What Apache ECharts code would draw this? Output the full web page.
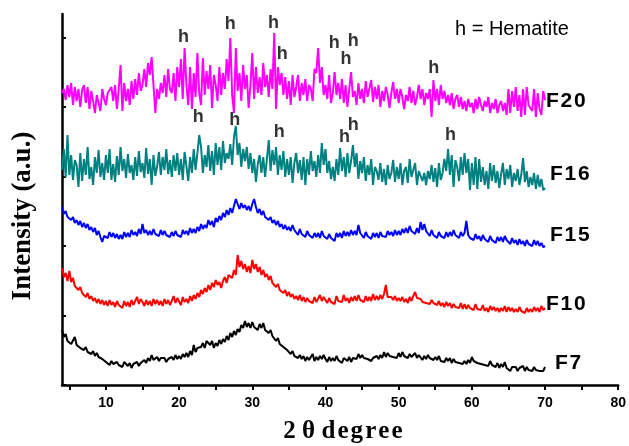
<!DOCTYPE html>
<html>
<head>
<meta charset="utf-8">
<script src="https://cdn.jsdelivr.net/npm/echarts@6/dist/echarts.min.js"></script>
<style>
  html, body { margin: 0; padding: 0; background: #fff; }
  #chart { width: 629px; height: 446px; }
</style>
</head>
<body>
<div id="chart"></div>
<script>
// Diffraction patterns sampled every 0.25° of 2θ, starting at 4°.
const angleStart = 4;
const angleStep = 0.25;

// Intensities (a.u.), one row per degree of 2θ (4 samples each).
const f7 = [
  55,48,51,44, 46,41,43,48, 40,42,37,39, 35,38,33,35, 31,34,29,32, 28,30,26,27,
  23,25,20,24, 21,19,23,20, 22,18,23,21, 19,22,17,21, 20,23,19,22, 21,25,22,27,
  24,30,25,27, 28,24,27,25, 27,23,26,24, 28,25,30,26, 29,26,31,28, 32,28,34,30,
  40,33,37,35, 38,42,37,44, 46,40,44,37, 42,39,45,41, 46,43,49,45, 52,48,54,50,
  56,53,60,57, 64,58,62,57, 63,58,60,55, 61,57,62,55, 57,52,55,49, 48,44,47,41,
  43,38,40,35, 36,31,34,29, 31,27,30,26, 29,24,28,25, 27,31,24,28, 25,29,26,30,
  26,23,28,24, 27,24,29,25, 26,22,27,25, 24,28,23,27, 29,26,31,27, 30,27,29,26,
  28,24,27,25, 29,26,30,27, 33,28,32,29, 31,28,30,27, 32,28,33,29, 30,27,31,28,
  29,32,27,30, 28,25,29,26, 30,27,28,25, 28,25,29,24, 26,23,27,24, 27,22,26,23,
  25,22,24,21, 24,21,25,22, 28,24,26,22, 24,21,23,20, 22,19,24,20, 21,18,22,17,
  21,18,23,17, 19,14,18,16, 18,14,17,15, 19,14,18,15, 17,14,18,15, 17,14,16,14,
  18
];
const f10 = [
  117,108,112,104, 114,103,107,99, 101,95,98,92, 94,88,92,86, 89,84,87,82, 86,81,85,80,
  84,79,85,80, 83,78,84,80, 82,77,84,79, 83,78,85,80, 82,88,81,86, 83,79,85,80,
  84,79,86,81, 85,80,84,79, 86,81,85,80, 84,89,82,87, 85,80,88,83, 86,82,89,84,
  90,86,92,88, 95,91,97,93, 100,95,102,98, 105,100,103,97, 104,108,102,110, 112,107,115,110,
  130,118,124,116, 121,113,119,112, 125,116,121,113, 118,110,115,108, 111,105,109,102, 104,98,101,95,
  97,92,95,89, 93,88,91,86, 89,85,90,84, 88,83,87,84, 86,82,88,83, 85,90,84,88,
  86,82,87,83, 85,81,89,84, 86,83,90,84, 87,82,88,84, 89,84,90,85, 87,83,89,84,
  88,84,91,85, 89,85,90,86, 91,100,88,90, 88,85,89,84, 87,84,88,83, 86,82,88,84,
  89,93,87,85, 86,83,85,82, 84,81,85,82, 83,80,84,79, 82,78,83,79, 82,77,81,78,
  80,77,82,76, 81,76,80,77, 79,75,81,76, 78,75,80,74, 77,73,79,75, 78,74,77,73,
  77,74,79,73, 78,74,77,73, 76,73,78,74, 75,72,77,73, 76,73,78,74, 77,73,79,75,
  77
];
const f15 = [
  178,171,174,168, 170,165,168,162, 165,160,164,158, 162,157,161,155, 158,153,157,150, 154,148,143,149,
  151,147,153,148, 152,147,151,146, 150,146,153,148, 152,148,155,150, 153,149,156,151, 161,152,155,150,
  154,150,156,151, 153,149,155,150, 154,150,152,148, 153,149,154,150, 152,148,155,151, 154,150,157,152,
  156,152,158,154, 161,156,160,157, 165,160,164,158, 167,163,169,165, 172,168,175,170, 177,172,179,186,
  181,176,182,177, 180,175,179,174, 181,186,178,172, 176,170,174,168, 170,165,168,162, 165,160,164,158,
  161,156,160,155, 158,154,160,155, 155,150,156,151, 153,148,154,150, 151,147,152,148, 152,147,154,149,
  150,146,151,147, 149,144,152,148, 152,147,154,149, 153,149,155,150, 154,150,160,152, 151,147,153,149,
  150,146,152,148, 152,147,153,149, 151,148,154,150, 153,149,155,150, 154,150,156,152, 157,152,159,154,
  155,151,157,152, 163,155,161,154, 153,149,155,150, 152,147,153,149, 151,147,153,148, 153,149,155,150,
  151,147,153,149, 152,164,150,147, 149,145,151,146, 149,144,150,146, 148,143,149,145, 147,142,148,144,
  148,143,149,145, 146,141,147,142, 145,140,146,141, 144,139,145,141, 143,139,145,140, 144,139,142,138,
  139
];
const f16 = [
  215,236,208,250, 210,230,205,225, 220,198,232,204, 226,210,238,206, 218,200,228,212, 235,208,222,205,
  230,212,236,205, 221,203,229,210, 238,214,226,207, 231,212,220,205, 228,209,234,213, 222,207,237,211,
  226,200,230,209, 219,233,210,228, 215,236,211,225, 208,230,214,232, 210,226,205,233, 219,204,228,212,
  236,215,232,250, 238,212,230,218, 240,214,234,210, 242,220,238,215, 244,222,232,226, 241,220,248,259,
  230,242,218,236, 224,238,216,232, 212,226,203,221, 230,212,228,208, 226,245,214,235, 220,238,210,230,
  215,234,208,226, 210,228,202,222, 232,212,225,205, 228,200,226,210, 234,214,224,208, 230,212,242,220,
  236,212,224,206, 218,204,226,210, 237,214,228,208, 232,212,224,240, 218,232,206,224, 212,228,204,220,
  210,226,200,218, 214,205,222,203, 216,200,220,206, 212,225,203,218, 206,222,200,214, 218,202,226,208,
  210,222,200,214, 216,204,212,200, 214,206,220,203, 217,198,222,205, 212,226,214,236, 210,230,198,225,
  218,204,228,210, 232,212,226,195, 222,200,228,196, 226,203,218,200, 214,196,222,204, 220,202,214,197,
  211,222,200,216, 206,220,198,212, 204,216,200,210, 227,203,214,198, 208,200,212,196, 210,198,206,195,
  197
];
const f20 = [
  292,296,285,300, 288,302,280,298, 284,296,278,295, 300,282,298,276, 294,284,272,290, 288,274,296,286,
  280,292,290,298, 284,300,276,296, 320,274,302,284, 296,280,304,286, 306,290,312,294, 300,316,298,322,
  310,328,300,272, 296,286,302,292, 310,288,316,296, 292,312,284,318, 298,326,286,337, 300,280,318,276,
  312,288,332,292, 280,327,290,314, 296,320,277,310, 300,284,318,290, 312,296,326,304, 347,290,272,337,
  294,312,284,320, 296,310,277,300, 332,286,318,292, 308,290,322,298, 310,288,316,296, 352,276,318,300,
  312,290,308,286, 304,280,310,288, 298,310,284,302, 290,306,284,300, 296,284,316,312, 337,302,318,290,
  300,286,310,282, 292,313,290,302, 286,306,282,300, 278,296,313,288, 294,280,302,286, 296,282,304,288,
  290,305,283,298, 286,300,278,294, 284,298,290,277, 292,303,286,296, 282,296,288,276, 290,284,298,282,
  294,280,288,300, 286,296,280,292, 286,296,268,305, 284,296,280,300, 286,294,282,290, 280,292,276,286,
  290,278,288,276, 284,274,286,278, 282,272,286,276, 288,280,274,284, 278,288,272,282, 276,286,272,280,
  284,274,282,270, 296,272,294,278, 298,274,290,268, 296,270,298,280, 282,274,296,268, 292,276,270,294,
  285
];

// Hematite reflections: 2θ position and label height (a.u.) for each pattern.
const hemF20Angles  = [20.6, 27.0, 32.9, 34.1, 41.2, 42.8, 43.8, 54.8];
const hemF20Heights = [348, 361, 362, 331, 342, 326, 344, 317];
const hemF16Angles  = [22.6, 27.6, 33.7, 42.6, 43.8, 57.1];
const hemF16Heights = [268, 265, 253, 248, 260, 250];

const seriesNames  = ['F7', 'F10', 'F15', 'F16', 'F20'];
const seriesColors = ['#000000', '#ff0000', '#0000ff', '#008080', '#ff00ff'];
const seriesValues = [f7, f10, f15, f16, f20];
// Placement of each end-of-trace name: [gap from the line end, vertical shift]
const nameOffsets  = [[10, -4], [1, -4], [5, -11], [5, -14], [1, 1]];

const xTicks  = [5, 10, 15, 20, 25, 30, 35, 40, 45, 50, 55, 60, 65, 70, 75, 80];
const xLabels = [10, 20, 30, 40, 50, 60, 70, 80];
const yTicks  = [0, 69.5, 139, 208.5, 278, 347.5];

const HAIR = '\u200A';
const spaced = s => s.split('').join(HAIR);
const toPairs = vals => vals.map((v, i) => [angleStart + i * angleStep, v]);

const traceSeries = seriesValues.map((vals, k) => ({
  name: seriesNames[k],
  type: 'line',
  data: toPairs(vals),
  showSymbol: false,
  symbol: 'none',
  lineStyle: { color: seriesColors[k], width: 2 },
  itemStyle: { color: seriesColors[k] },
  z: 2,
  endLabel: {
    show: true,
    formatter: p => spaced(p.seriesName),
    distance: nameOffsets[k][0],
    offset: [0, nameOffsets[k][1]],
    color: '#000',
    fontFamily: 'Liberation Sans',
    fontWeight: 'bold',
    fontSize: 21
  }
}));

const hemSeries = [[hemF20Angles, hemF20Heights], [hemF16Angles, hemF16Heights]].map(([a, h]) => ({
  type: 'scatter',
  data: a.map((x, i) => [x, h[i]]),
  symbolSize: 1,
  itemStyle: { color: 'rgba(0,0,0,0)' },
  z: 5,
  label: {
    show: true,
    position: 'inside',
    formatter: 'h',
    color: '#000',
    fontFamily: 'Liberation Sans',
    fontWeight: 'bold',
    fontSize: 18
  }
}));

const chart = echarts.init(document.getElementById('chart'), null, { renderer: 'canvas' });
chart.setOption({
  animation: false,
  backgroundColor: '#fff',
  grid: { left: 62, right: 9, top: 14, bottom: 61, containLabel: false },
  xAxis: {
    type: 'value',
    min: 4,
    max: 80,
    splitLine: { show: false },
    axisLine: { lineStyle: { color: '#000', width: 2.5 } },
    axisTick: { show: true, inside: false, length: 5, customValues: xTicks, lineStyle: { color: '#000', width: 2 } },
    axisLabel: {
      customValues: xLabels,
      margin: 11,
      color: '#000',
      fontFamily: 'Liberation Sans',
      fontWeight: 'bold',
      fontSize: 14
    }
  },
  yAxis: {
    type: 'value',
    min: 0,
    max: 371,
    splitLine: { show: false },
    axisLine: { show: true, lineStyle: { color: '#000', width: 2.5 } },
    axisTick: { show: true, inside: true, length: 4, customValues: yTicks, lineStyle: { color: '#000', width: 2 } },
    axisLabel: { show: false }
  },
  graphic: [
    {
      type: 'text', x: 23, y: 216, rotation: Math.PI / 2,
      style: {
        text: 'Intensity (a.u.)', fill: '#000',
        fontFamily: 'Liberation Serif', fontWeight: 'bold', fontSize: 27,
        align: 'center', verticalAlign: 'middle'
      }
    },
    {
      type: 'text', x: 343, y: 432,
      style: {
        text: '2 θ ' + spaced('degree'), fill: '#000',
        fontFamily: 'Liberation Serif', fontWeight: 'bold', fontSize: 25,
        align: 'center', verticalAlign: 'middle'
      }
    },
    {
      type: 'text', x: 455, y: 29,
      style: {
        text: 'h = Hematite', fill: '#000',
        fontFamily: 'Liberation Sans', fontSize: 20,
        align: 'left', verticalAlign: 'middle'
      }
    }
  ],
  series: traceSeries.concat(hemSeries)
});
</script>
</body>
</html>
